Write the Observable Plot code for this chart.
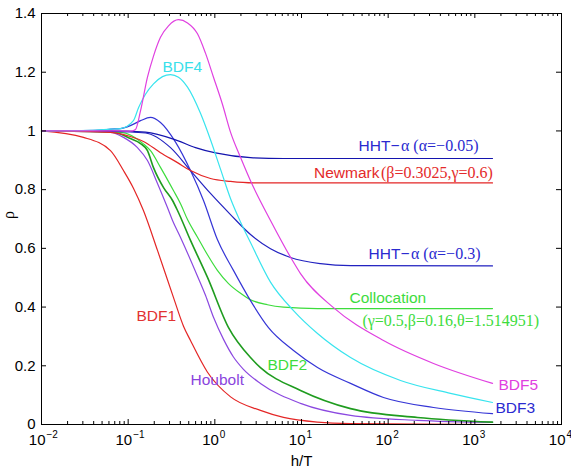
<!DOCTYPE html>
<html><head><meta charset="utf-8">
<script src="https://cdn.jsdelivr.net/npm/d3@7"></script>
<script src="https://cdn.jsdelivr.net/npm/@observablehq/plot@0.6"></script>
<style>body{margin:0;background:#fff;}</style>
</head><body><div id="chart"></div>
<script>
// ---- data: h/T and spectral radius ----
const bdf1HT  = [0.01, 0.0305, 0.0625, 0.0883, 0.115, 0.150, 0.218, 0.333, 0.435, 0.524, 0.823, 1.52, 3.36, 6.20, 15.3, 36.8, 1600];
const bdf1Rho = [1.0, 0.978, 0.933, 0.865, 0.805, 0.729, 0.593, 0.433, 0.335, 0.286, 0.178, 0.094, 0.048, 0.024, 0.008, 0.003, 0.0];

const houboltHT  = [0.01, 0.0625, 0.0883, 0.128, 0.167, 0.218, 0.284, 0.325, 0.402, 0.631, 0.780, 0.965, 1.26, 1.64, 2.14, 3.36, 9.74, 36.8, 218, 1600];
const houboltRho = [1.0, 0.995, 0.978, 0.943, 0.899, 0.821, 0.739, 0.695, 0.637, 0.505, 0.44, 0.365, 0.29, 0.23, 0.188, 0.140, 0.072, 0.031, 0.014, 0.007];

const bdf2HT  = [0.01, 0.0625, 0.106, 0.139, 0.167, 0.196, 0.256, 0.325, 0.371, 0.524, 0.823, 1.44, 2.58, 3.36, 9.74, 36.8, 218, 1600];
const bdf2Rho = [1.0, 0.998, 0.974, 0.957, 0.933, 0.875, 0.807, 0.763, 0.729, 0.627, 0.501, 0.33, 0.228, 0.194, 0.116, 0.054, 0.024, 0.008];

const collocHT  = [0.01, 0.0816, 0.150, 0.181, 0.236, 0.333, 0.402, 0.484, 0.631, 0.823, 1.07, 1.44, 1.98, 2.58, 4.05, 6.20, 15.3, 1600];
const collocRho = [1.0, 0.995, 0.956, 0.933, 0.876, 0.797, 0.752, 0.698, 0.638, 0.578, 0.525, 0.48, 0.447, 0.425, 0.408, 0.40, 0.395, 0.395];

const bdf3HT  = [0.01, 0.048, 0.0625, 0.0816, 0.106, 0.139, 0.181, 0.236, 0.352, 0.524, 0.740, 1.07, 1.64, 2.58, 4.16, 8.09, 15.3, 36.8, 88.3, 334, 1600];
const bdf3Rho = [1.0, 1.003, 1.006, 1.008, 1.018, 1.035, 1.046, 1.029, 0.962, 0.865, 0.763, 0.63, 0.525, 0.422, 0.33, 0.252, 0.194, 0.140, 0.092, 0.058, 0.037];

const hht03HT  = [0.01, 0.0625, 0.1585, 0.308, 0.524, 0.891, 1.516, 2.58, 4.39, 7.47, 16.57, 36.8, 1600];
const hht03Rho = [1.0, 0.998, 0.993, 0.943, 0.865, 0.787, 0.715, 0.647, 0.599, 0.569, 0.548, 0.541, 0.54];

const hht005HT  = [0.01, 0.0625, 0.1585, 0.371, 0.598, 1.018, 2.58, 6.20, 1600];
const hht005Rho = [1.0, 1.0, 0.996, 0.967, 0.943, 0.925, 0.909, 0.906, 0.906];

const newmarkHT  = [0.01, 0.0625, 0.106, 0.150, 0.236, 0.371, 0.524, 0.891, 1.516, 2.79, 5.72, 1600];
const newmarkRho = [1.0, 0.995, 0.981, 0.964, 0.926, 0.892, 0.865, 0.838, 0.828, 0.823, 0.823, 0.823];

const bdf4HT  = [0.01, 0.0368, 0.0625, 0.0816, 0.115, 0.132, 0.1585, 0.196, 0.249, 0.308, 0.381, 0.484, 0.683, 0.891, 1.162, 1.516, 1.978, 2.579, 4.388, 8.085, 15.3, 36.8, 138.8, 523.9, 1600];
const bdf4Rho = [1.0, 1.002, 1.006, 1.008, 1.035, 1.08, 1.125, 1.16, 1.185, 1.192, 1.183, 1.149, 1.06, 0.97, 0.87, 0.77, 0.69, 0.62, 0.485, 0.388, 0.31, 0.228, 0.15, 0.106, 0.075];

const bdf5HT  = [0.01, 0.0816, 0.106, 0.1215, 0.139, 0.167, 0.196, 0.236, 0.292, 0.381, 0.484, 0.631, 0.780, 0.965, 1.226, 1.516, 1.978, 2.579, 4.388, 7.467, 9.739, 23.39, 88.34, 333.6, 1600];
const bdf5Rho = [1.0, 1.0, 0.999, 1.005, 1.069, 1.183, 1.255, 1.319, 1.358, 1.379, 1.368, 1.331, 1.265, 1.183, 1.09, 0.996, 0.91, 0.83, 0.695, 0.57, 0.514, 0.398, 0.286, 0.208, 0.14];

// tick values and labels
const yTicks = [0, 0.2, 0.4, 0.6, 0.8, 1, 1.2, 1.4];
const yTickLabels = ["0", "0.2", "0.4", "0.6", "0.8", "1", "1.2", "1.4"];
const xDecades = [0.01, 0.1, 1, 10, 100, 1000, 10000];
const xExponents = ["\u22122", "\u22121", "0", "1", "2", "3", "4"];
const xMinor = [2,3,4,5,6,7,8,9].flatMap(m => [0.01, 0.1, 1, 10, 100, 1000].map(d => m * d));

// curve labels (anchor in data coordinates)
const plainLabels = ["BDF4", "BDF1", "Houbolt", "BDF2", "BDF5", "BDF3", "Collocation"];
const plainLabelX = [0.249, 0.1248, 0.524, 4.05, 1875, 1730, 35.8];
const plainLabelY = [1.202, 0.354, 0.133, 0.184, 0.119, 0.0375, 0.4155];
const mixedSans  = ["HHT\u2212", "Newmark", "HHT\u2212"];
const mixedSerif = ["\u03b1 (\u03b1=\u22120.05)", "(\u03b2=0.3025,\u03b3=0.6)", "\u03b1 (\u03b1=\u22120.3)"];
const mixedX = [135.1, 79.4, 176.2];
const mixedY = [0.9315, 0.8413, 0.5654];
const serifLabel = ["(\u03b3=0.5,\u03b2=0.16,\u03b8=1.514951)"];
const serifLabelX = [50.5];
const serifLabelY = [0.3372];

// ---- styles ----
const lineColor = {
  BDF1: "#e42626", Houbolt: "#8b48e0", BDF2: "#1f9c1f", Collocation: "#3ddc3d",
  BDF3: "#3535d6", HHT03: "#2222c0", HHT005: "#1414ae", Newmark: "#e42626",
  BDF4: "#38e4ee", BDF5: "#e040e0"
};
const labelColor = {
  BDF4: "#38e0ea", BDF1: "#e23232", Houbolt: "#8a44dd", BDF2: "#3ddc3d",
  BDF5: "#e040e0", BDF3: "#2a2ad0", Collocation: "#3ddc3d"
};
const mixedColor = ["#2a2ad0", "#e42a2a", "#2a2ad0"];
const SANS = "'Liberation Sans', Arial, Helvetica, sans-serif";
const SERIF = "'Liberation Serif', 'Times New Roman', serif";

const series = [
  ["BDF1", bdf1HT, bdf1Rho], ["Houbolt", houboltHT, houboltRho], ["BDF2", bdf2HT, bdf2Rho],
  ["Collocation", collocHT, collocRho], ["BDF3", bdf3HT, bdf3Rho], ["HHT03", hht03HT, hht03Rho],
  ["HHT005", hht005HT, hht005Rho], ["Newmark", newmarkHT, newmarkRho],
  ["BDF4", bdf4HT, bdf4Rho], ["BDF5", bdf5HT, bdf5Rho]
];

const W = 571, H = 470, mL = 41, mR = 10, mT = 13, mB = 46;
const fw = W - mL - mR, fh = H - mT - mB;

const lineMarks = series.map(([name, xs, ys]) =>
  Plot.line(xs.map((x, i) => ({x, y: ys[i]})), {
    x: "x", y: "y", stroke: lineColor[name],
    strokeWidth: name === "BDF2" ? 1.6 : 1.2, curve: "monotone-x"
  }));

const chart = Plot.plot({
  width: W, height: H,
  marginLeft: mL, marginRight: mR, marginTop: mT, marginBottom: mB,
  x: {type: "log", domain: [0.01, 10000], axis: null},
  y: {domain: [0, 1.4], axis: null},
  style: {fontFamily: SANS, background: "white"},
  marks: [
    ...lineMarks,
    Plot.frame({stroke: "black", strokeWidth: 1}),
    // inward ticks
    Plot.ruleX(xDecades, {x: d => d, insetTop: fh - 5, stroke: "black"}),
    Plot.ruleX(xDecades, {x: d => d, insetBottom: fh - 5, stroke: "black"}),
    Plot.ruleX(xMinor, {x: d => d, insetTop: fh - 3, stroke: "black"}),
    Plot.ruleX(xMinor, {x: d => d, insetBottom: fh - 3, stroke: "black"}),
    Plot.ruleY(yTicks, {y: d => d, insetRight: fw - 5, stroke: "black"}),
    Plot.ruleY(yTicks, {y: d => d, insetLeft: fw - 5, stroke: "black"}),
    // y tick labels
    Plot.text(yTicks, {y: d => d, text: (d, i) => yTickLabels[i], frameAnchor: "left",
      dx: -6, textAnchor: "end", fontSize: 15, fill: "black"}),
    // x tick labels 10^k
    Plot.text(xDecades, {x: d => d, text: () => "10", frameAnchor: "bottom",
      textAnchor: "end", lineAnchor: "bottom", dx: 4, dy: 20, fontSize: 15, fill: "black"}),
    Plot.text(xDecades, {x: d => d, text: (d, i) => xExponents[i], frameAnchor: "bottom",
      textAnchor: "start", lineAnchor: "bottom", dx: 5, dy: 13, fontSize: 10, fill: "black"}),
    // axis titles
    Plot.text(["h/T"], {text: d => d, frameAnchor: "bottom", lineAnchor: "bottom",
      dy: 41, fontSize: 15, fill: "black"}),
    Plot.text(["\u03c1"], {text: d => d, frameAnchor: "left", lineAnchor: "bottom",
      rotate: -90, dx: -28, fontSize: 16, fontFamily: SERIF, fill: "black"}),
    // curve labels
    Plot.text(plainLabels, {x: (d, i) => plainLabelX[i], y: (d, i) => plainLabelY[i], text: d => d,
      textAnchor: "start", lineAnchor: "bottom", fontSize: 15.5, fill: d => labelColor[d]}),
    Plot.text(mixedSans, {x: (d, i) => mixedX[i], y: (d, i) => mixedY[i], text: d => d,
      textAnchor: "end", lineAnchor: "bottom", fontSize: 15.5, fill: (d, i) => mixedColor[i]}),
    Plot.text(mixedSerif, {x: (d, i) => mixedX[i], y: (d, i) => mixedY[i], text: d => d,
      textAnchor: "start", lineAnchor: "bottom", dx: 1.5, fontSize: 16, fontFamily: SERIF,
      fill: (d, i) => mixedColor[i]}),
    Plot.text(serifLabel, {x: (d, i) => serifLabelX[i], y: (d, i) => serifLabelY[i], text: d => d,
      textAnchor: "start", lineAnchor: "bottom", fontSize: 16, fontFamily: SERIF, fill: "#3ddc3d"})
  ]
});
document.getElementById("chart").appendChild(chart);
</script>
</body></html>
